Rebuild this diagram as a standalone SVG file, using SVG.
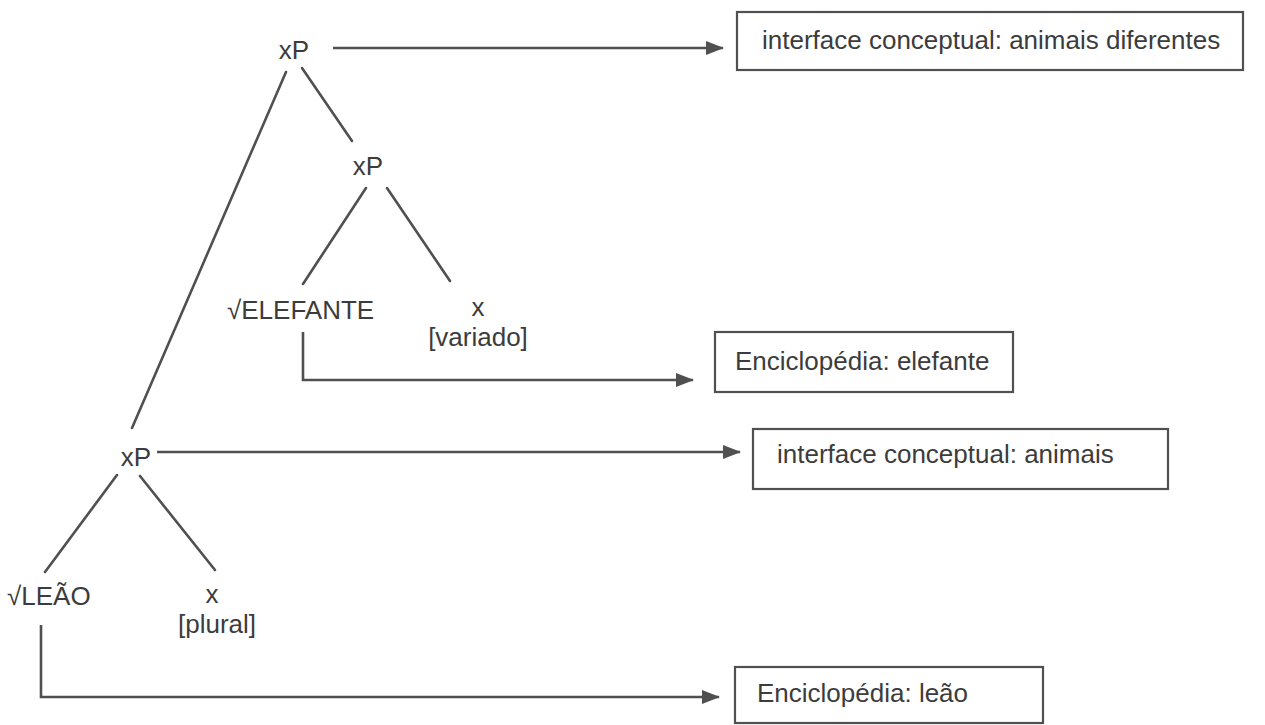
<svg xmlns="http://www.w3.org/2000/svg" width="1265" height="725" viewBox="0 0 1265 725">
<defs>
<style>
text{font-family:"Liberation Sans",Arial,sans-serif;font-size:26px;fill:#3c3c3c}
.m{text-anchor:middle}
.e{stroke:#505050;stroke-width:2.6;fill:none;stroke-linecap:round}
.a{stroke:#505050;stroke-width:2.6;fill:none;marker-end:url(#ah)}
.b{fill:#fff;stroke:#505050;stroke-width:2.2}
</style>
<marker id="ah" markerUnits="userSpaceOnUse" markerWidth="18" markerHeight="14" refX="17" refY="7" orient="auto">
<path d="M0,0 L18,7 L0,14 Z" fill="#505050"/>
</marker>
</defs>
<rect width="1265" height="725" fill="#fff"/>
<g id="connectors">
<line class="e" x1="286" y1="72" x2="132" y2="428"/>
<line class="e" x1="302" y1="68" x2="352" y2="141"/>
<line class="e" x1="366" y1="188" x2="303" y2="284"/>
<line class="e" x1="387" y1="188" x2="450" y2="281"/>
<line class="e" x1="117" y1="475" x2="45" y2="572"/>
<line class="e" x1="140" y1="476" x2="215" y2="570"/>
<line class="a" x1="333" y1="48" x2="723" y2="48"/>
<path class="a" d="M303,332 L303,380 L693,380"/>
<line class="a" x1="157" y1="452" x2="740" y2="452"/>
<path class="a" d="M41,625 L41,697 L719,697"/>
</g>
<g id="xP-top"><text class="m" x="294" y="59">xP</text></g>
<g id="xP-mid"><text class="m" x="368" y="175">xP</text></g>
<g id="root-elefante"><text x="227" y="319">√ELEFANTE</text></g>
<g id="x-variado"><text class="m" x="478" y="316">x</text><text class="m" x="478" y="346">[variado]</text></g>
<g id="xP-bottom"><text class="m" x="136" y="466">xP</text></g>
<g id="root-leao"><text x="7" y="605">√LEÃO</text></g>
<g id="x-plural"><text class="m" x="212" y="603">x</text><text class="m" x="217" y="633">[plural]</text></g>
<g id="box-animais-diferentes"><rect class="b" x="737" y="12" width="506" height="58"/><text x="762" y="49">interface conceptual: animais diferentes</text></g>
<g id="box-enc-elefante"><rect class="b" x="715" y="332" width="298" height="60"/><text x="735" y="370">Enciclopédia: elefante</text></g>
<g id="box-animais"><rect class="b" x="753" y="429" width="415" height="60"/><text x="777" y="463">interface conceptual: animais</text></g>
<g id="box-enc-leao"><rect class="b" x="735" y="667" width="308" height="56"/><text x="757" y="702">Enciclopédia: leão</text></g>
</svg>
